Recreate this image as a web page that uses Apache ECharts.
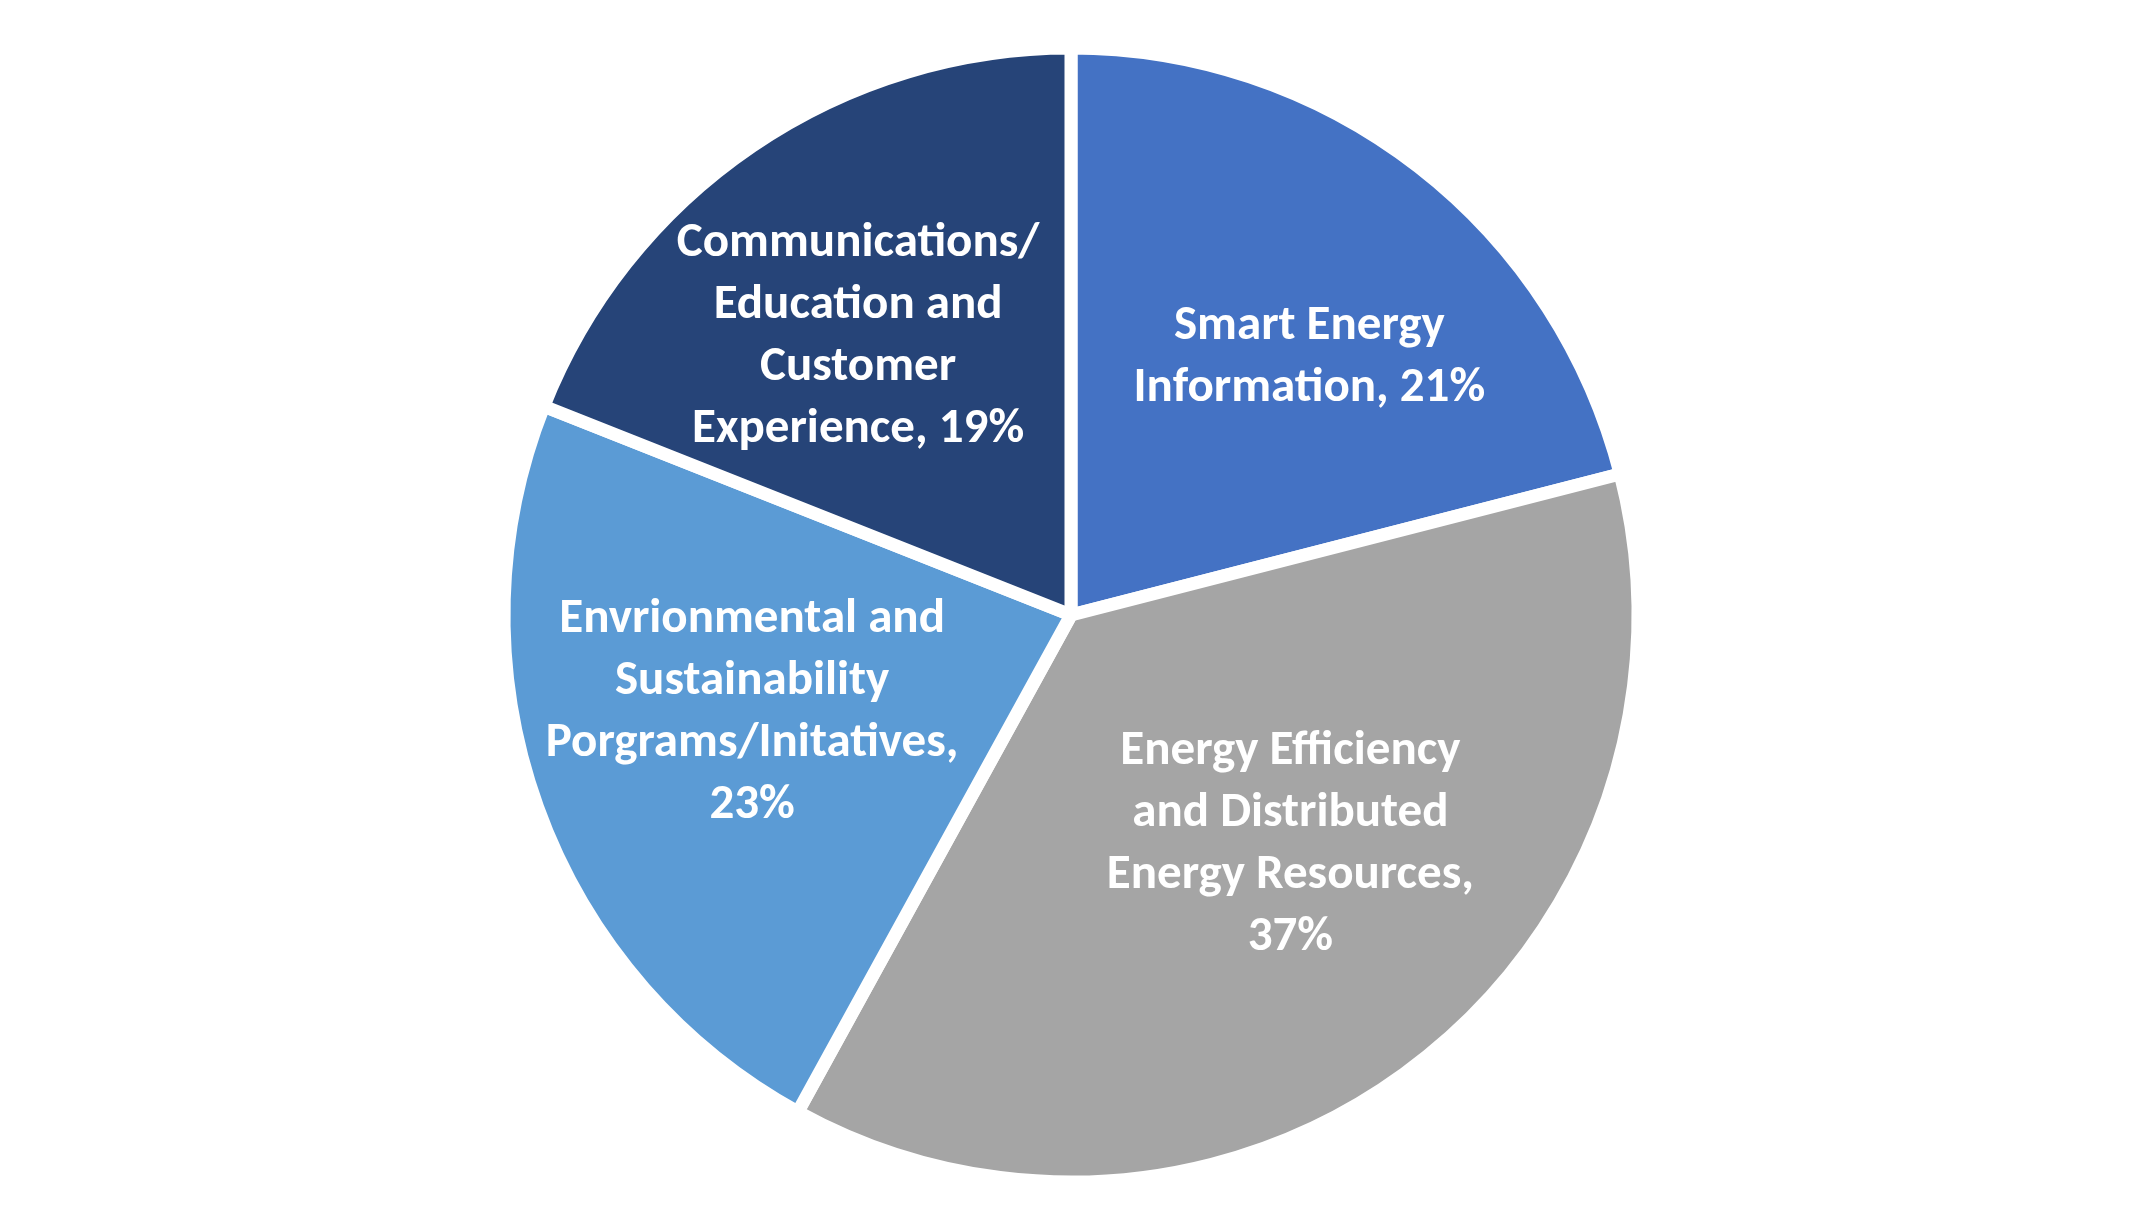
<!DOCTYPE html>
<html>
<head>
<meta charset="utf-8">
<script src="https://cdn.jsdelivr.net/npm/echarts@6/dist/echarts.min.js"></script>
<style>
html,body{margin:0;padding:0;background:#fff;}
#chart{width:2145px;height:1231px;}
</style>
</head>
<body>
<div id="chart"></div>
<script>
const categories = [
  "Smart Energy Information",
  "Energy Efficiency and Distributed Energy Resources",
  "Envrionmental and Sustainability Porgrams/Initatives",
  "Communications/Education and Customer Experience"
];
const values = [21, 37, 23, 19];
const labelTemplates = [
  "Smart Energy\nInformation, {v}%",
  "Energy Efficiency\nand Distributed\nEnergy Resources,\n{v}%",
  "Envrionmental and\nSustainability\nPorgrams/Initatives,\n{v}%",
  "Communications/\nEducation and\nCustomer\nExperience, {v}%"
];
const colors = ["#4472C4", "#A5A5A5", "#5B9BD5", "#264478"];
const labelOffsets = [[28, 14], [9, -41], [4, -19], [-20, 6]];

const chart = echarts.init(document.getElementById('chart'));
const center = [1071, 615];
const R = 567;
const labelFont = {
  color: '#ffffff',
  fontWeight: 'bold',
  fontSize: 49,
  lineHeight: 62,
  fontFamily: "Carlito, Calibri, 'Open Sans', 'Noto Sans', sans-serif",
  align: 'center'
};
chart.setOption({
  animation: false,
  backgroundColor: '#ffffff',
  series: [
    {
      type: 'pie',
      center: center,
      radius: [0, R],
      startAngle: 90,
      clockwise: true,
      silent: true,
      label: { show: false },
      labelLine: { show: false },
      itemStyle: { borderColor: '#ffffff', borderWidth: 13 },
      data: categories.map((c, i) => ({
        name: c, value: values[i], itemStyle: { color: colors[i] }
      }))
    },
    {
      type: 'pie',
      center: center,
      radius: [0, R * 1.2],
      startAngle: 90,
      clockwise: true,
      silent: true,
      z: 5,
      itemStyle: { color: 'rgba(0,0,0,0)', borderWidth: 0 },
      labelLine: { show: false },
      data: categories.map((c, i) => ({
        name: c, value: values[i],
        label: Object.assign({
          show: true,
          position: 'inside',
          offset: labelOffsets[i],
          formatter: labelTemplates[i].replace('{v}', values[i])
        }, labelFont)
      }))
    }
  ]
});
</script>
</body>
</html>
